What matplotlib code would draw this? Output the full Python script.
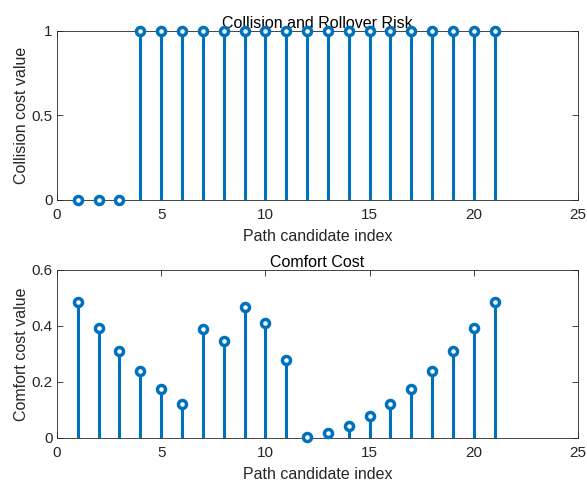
import matplotlib
matplotlib.use('Agg')
import matplotlib.pyplot as plt
import numpy as np

# path candidate indices and the two cost series
idx = np.arange(1, 22)
collision_cost = [0, 0, 0, 1, 1, 1, 1, 1, 1, 1, 1, 1, 1, 1, 1, 1, 1, 1, 1, 1, 1]
comfort_cost = [0.487, 0.394, 0.311, 0.238, 0.175, 0.122, 0.389, 0.345, 0.469, 0.411,
                0.280, 0.004, 0.019, 0.043, 0.078, 0.122, 0.175, 0.238, 0.311, 0.394, 0.487]

titles = ['Collision and Rollover Risk', 'Comfort Cost']
ylabels = ['Collision cost value', 'Comfort cost value']
xlabel = 'Path candidate index'
xticks = [0, 5, 10, 15, 20, 25]

plt.rcParams['font.family'] = ['Liberation Sans', 'DejaVu Sans']
plt.rcParams['font.size'] = 11

blue = '#0072BD'
dark = '#262626'

fig = plt.figure(figsize=(5.87, 4.86), dpi=100)
ax1 = fig.add_axes([0.097, 0.5885, 0.8876, 0.348])
ax2 = fig.add_axes([0.097, 0.0988, 0.8876, 0.3457])


def draw_stem(ax, y, title, ylabel, ylim, yticks):
    markers, stems, base = ax.stem(idx, y, basefmt=' ')
    plt.setp(stems, color=blue, linewidth=2.2)
    markers.set_color(blue)
    markers.set_markerfacecolor('white')
    markers.set_markeredgewidth(2.5)
    markers.set_markersize(5.8)
    markers.set_clip_on(False)
    markers.set_zorder(5)
    ax.set_xlim(0, 25)
    ax.set_ylim(*ylim)
    ax.set_xticks(xticks)
    ax.set_yticks(yticks)
    ax.tick_params(direction='in', top=True, right=True, colors=dark,
                   labelcolor=dark, length=4, width=0.6, labelsize=11)
    ax.tick_params(axis='x', pad=6)
    ax.tick_params(axis='y', pad=3)
    for s in ax.spines.values():
        s.set_color(dark)
        s.set_linewidth(0.6)
    ax.set_title(title, color='black', fontsize=11.5, pad=2)
    ax.set_xlabel(xlabel, color=dark, fontsize=11.5, labelpad=5)
    ax.set_ylabel(ylabel, color=dark, fontsize=11.5, labelpad=2)


draw_stem(ax1, collision_cost, titles[0], ylabels[0], (0, 1), [0, 0.5, 1])
ax1.set_yticklabels(['0', '0.5', '1'])
draw_stem(ax2, comfort_cost, titles[1], ylabels[1], (0, 0.6), [0, 0.2, 0.4, 0.6])
ax2.set_yticklabels(['0', '0.2', '0.4', '0.6'])

fig.savefig('out.png', dpi=100)
